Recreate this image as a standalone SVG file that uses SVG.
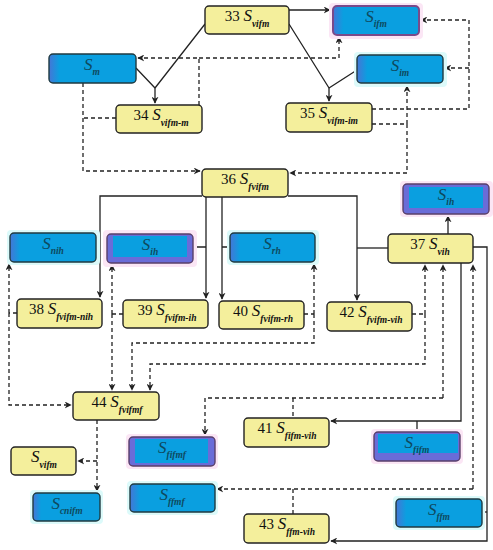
<svg xmlns="http://www.w3.org/2000/svg" width="493" height="550" viewBox="0 0 493 550">
<defs>
<marker id="ah" viewBox="0 0 10 10" refX="9" refY="5" markerWidth="7" markerHeight="7" orient="auto" markerUnits="userSpaceOnUse">
<path d="M0,0 L10,5 L0,10 L3,5 z" fill="#222"/>
</marker>
<linearGradient id="bg" x1="0" y1="0" x2="1" y2="0">
<stop offset="0" stop-color="#4576d6"/><stop offset="0.12" stop-color="#0a9fe0"/><stop offset="1" stop-color="#0a9fe0"/>
</linearGradient>
<style>
.y{fill:#f4ef9c;stroke:#222;stroke-width:1.4}
.b{fill:url(#bg);stroke:#1f3a40;stroke-width:1.4}
.p{fill:#6a6cd8;stroke:#5a3f6a;stroke-width:1.4}
.pi{fill:#0a9fe0}
.gp{fill:#fbe6f5}
.gc{fill:#dcfafa}
text{font-family:"Liberation Serif","Times New Roman",serif;font-size:15px;text-anchor:middle;fill:#111}
.bt{fill:#0e4a5e}
.S{font-style:italic;font-size:17px}
.sub{font-style:italic;font-size:9.5px;font-weight:bold}
.c{fill:none;stroke:#222;stroke-width:1.3}
.d{fill:none;stroke:#222;stroke-width:1.3;stroke-dasharray:4,3}
</style>
</defs>

<g id="connectors">
<!-- solid -->
<path class="c" d="M289,10 H330" marker-end="url(#ah)"/>
<path class="c" d="M205,24 L155,88 M136,68 L155,88"/>
<path class="c" d="M155,88 V103" marker-end="url(#ah)"/>
<path class="c" d="M289,24 L329,88 M357,70 L329,88"/>
<path class="c" d="M329,88 V101" marker-end="url(#ah)"/>
<path class="c" d="M202,196 H100 V297" marker-end="url(#ah)"/>
<path class="c" d="M206,197 V298" marker-end="url(#ah)"/>
<path class="c" d="M222,197 V299" marker-end="url(#ah)"/>
<path class="c" d="M96,248 H100 M193,247 H206 M230,247 H222"/>
<path class="c" d="M288,196 H357 V300" marker-end="url(#ah)"/>
<path class="c" d="M388,248 H357"/>
<path class="c" d="M448,234 V216" marker-end="url(#ah)"/>
<path class="c" d="M473,247 H487 V541 H331" marker-end="url(#ah)"/>
<path class="c" d="M482,512 H487"/>
<path class="c" d="M461,263 V421 H331" marker-end="url(#ah)"/>
<path class="c" d="M417,432 V421"/>
<!-- dashed -->
<path class="d" d="M372,109 H469 V20 H421" marker-end="url(#ah)"/>
<path class="d" d="M469,68 H445" marker-end="url(#ah)"/>
<path class="d" d="M372,124 H407 V173 H290" marker-end="url(#ah)"/>
<path class="d" d="M407,124 V86" marker-end="url(#ah)"/>
<path class="d" d="M199,105 V58 H138" marker-end="url(#ah)"/>
<path class="d" d="M199,58 H339 V37" marker-end="url(#ah)"/>
<path class="d" d="M83,83 V171 H200" marker-end="url(#ah)"/>
<path class="d" d="M116,118 H83"/>
<path class="d" d="M17,313 H9"/>
<path class="d" d="M9,313 V264" marker-end="url(#ah)"/>
<path class="d" d="M9,313 V405 H71" marker-end="url(#ah)"/>
<path class="d" d="M123,314 H112"/>
<path class="d" d="M112,314 V265" marker-end="url(#ah)"/>
<path class="d" d="M112,314 V390" marker-end="url(#ah)"/>
<path class="d" d="M304,314 H314"/>
<path class="d" d="M314,314 V264" marker-end="url(#ah)"/>
<path class="d" d="M314,314 V343 H132 V390" marker-end="url(#ah)"/>
<path class="d" d="M412,314 H425"/>
<path class="d" d="M425,314 V265" marker-end="url(#ah)"/>
<path class="d" d="M425,314 V364 H150 V390" marker-end="url(#ah)"/>
<path class="d" d="M443,398 V265" marker-end="url(#ah)"/>
<path class="d" d="M443,398 H205 V435" marker-end="url(#ah)"/>
<path class="d" d="M293,398 V418"/>
<path class="d" d="M473,489 V265" marker-end="url(#ah)"/>
<path class="d" d="M473,489 H217" marker-end="url(#ah)"/>
<path class="d" d="M293,489 V514"/>
<path class="d" d="M97,420 V491" marker-end="url(#ah)"/>
<path class="d" d="M97,461 H78" marker-end="url(#ah)"/>
</g>

<g id="n33"><rect class="y" x="205" y="6" width="84" height="28" rx="4"/><text x="247" y="21">33 <tspan class="S">S</tspan><tspan class="sub" dy="6">vifm</tspan></text></g>
<g id="s_ifm"><rect class="gp" x="329" y="3" width="94" height="36" rx="4"/><rect class="b" x="333" y="6" width="86" height="29" rx="4" style="stroke:#7a4a8a;stroke-width:2"/><text class="bt" x="376" y="22"><tspan class="S">S</tspan><tspan class="sub" dy="5">ifm</tspan></text></g>
<g id="s_im"><rect class="gc" x="354" y="52" width="93" height="35" rx="4"/><rect class="b" x="357" y="55" width="86" height="28" rx="4"/><text class="bt" x="400" y="71"><tspan class="S">S</tspan><tspan class="sub" dy="5">im</tspan></text></g>
<g id="s_m"><rect class="b" x="49" y="54" width="87" height="29" rx="4"/><text class="bt" x="92" y="70"><tspan class="S">S</tspan><tspan class="sub" dy="5">m</tspan></text></g>
<g id="n34"><rect class="y" x="116" y="105" width="86" height="28" rx="4"/><text x="161" y="120">34 <tspan class="S">S</tspan><tspan class="sub" dy="6">vifm-m</tspan></text></g>
<g id="n35"><rect class="y" x="286" y="103" width="86" height="29" rx="4"/><text x="329" y="118">35 <tspan class="S">S</tspan><tspan class="sub" dy="6">vifm-im</tspan></text></g>
<g id="n36"><rect class="y" x="202" y="169" width="86" height="28" rx="4"/><text x="245" y="184">36 <tspan class="S">S</tspan><tspan class="sub" dy="6">fvifm</tspan></text></g>
<g id="s_nih"><rect class="gc" x="7" y="230" width="93" height="35" rx="4"/><rect class="b" x="10" y="233" width="86" height="29" rx="4"/><text class="bt" x="53" y="249"><tspan class="S">S</tspan><tspan class="sub" dy="5">nih</tspan></text></g>
<g id="s_ih1"><rect class="gp" x="103" y="230" width="94" height="37" rx="4"/><rect class="p" x="107" y="234" width="86" height="29" rx="4"/><rect class="pi" x="113" y="236" width="74" height="21"/><text class="bt" x="150" y="250"><tspan class="S">S</tspan><tspan class="sub" dy="5">ih</tspan></text></g>
<g id="s_rh"><rect class="gc" x="227" y="230" width="92" height="35" rx="4"/><rect class="b" x="230" y="233" width="85" height="29" rx="4"/><text class="bt" x="272" y="249"><tspan class="S">S</tspan><tspan class="sub" dy="5">rh</tspan></text></g>
<g id="s_ih2"><rect class="gp" x="400" y="181" width="93" height="36" rx="4"/><rect class="p" x="403" y="184" width="86" height="30" rx="4"/><rect class="pi" x="409" y="187" width="74" height="21"/><text class="bt" x="446" y="200"><tspan class="S">S</tspan><tspan class="sub" dy="5">ih</tspan></text></g>
<g id="n37"><rect class="y" x="388" y="234" width="85" height="29" rx="4"/><text x="430" y="249">37 <tspan class="S">S</tspan><tspan class="sub" dy="6">vih</tspan></text></g>
<g id="n38"><rect class="y" x="17" y="299" width="85" height="29" rx="4"/><text x="61" y="314">38 <tspan class="S">S</tspan><tspan class="sub" dy="6">fvifm-nih</tspan></text></g>
<g id="n39"><rect class="y" x="123" y="300" width="85" height="28" rx="4"/><text x="167" y="315">39 <tspan class="S">S</tspan><tspan class="sub" dy="6">fvifm-ih</tspan></text></g>
<g id="n40"><rect class="y" x="219" y="301" width="85" height="28" rx="4"/><text x="263" y="316">40 <tspan class="S">S</tspan><tspan class="sub" dy="6">fvifm-rh</tspan></text></g>
<g id="n42"><rect class="y" x="327" y="302" width="85" height="29" rx="4"/><text x="371" y="317">42 <tspan class="S">S</tspan><tspan class="sub" dy="6">fvifm-vih</tspan></text></g>
<g id="n44"><rect class="y" x="73" y="392" width="86" height="28" rx="4"/><text x="117" y="407">44 <tspan class="S">S</tspan><tspan class="sub" dy="6">fvifmf</tspan></text></g>
<g id="s_vifm"><rect class="y" x="11" y="447" width="65" height="28" rx="4"/><text x="44" y="462"><tspan class="S">S</tspan><tspan class="sub" dy="6">vifm</tspan></text></g>
<g id="s_cnifm"><rect class="gc" x="30" y="490" width="73" height="34" rx="4"/><rect class="b" x="33" y="493" width="67" height="28" rx="4"/><text class="bt" x="67" y="509"><tspan class="S">S</tspan><tspan class="sub" dy="5">cnifm</tspan></text></g>
<g id="s_fifmf"><rect class="gp" x="126" y="434" width="92" height="35" rx="4"/><rect class="p" x="129" y="437" width="86" height="29" rx="4"/><rect class="pi" x="135" y="439" width="73" height="24"/><text class="bt" x="172" y="453"><tspan class="S">S</tspan><tspan class="sub" dy="5">fifmf</tspan></text></g>
<g id="s_ffmf"><rect class="gc" x="127" y="481" width="91" height="34" rx="4"/><rect class="b" x="130" y="484" width="85" height="28" rx="4"/><text class="bt" x="172" y="500"><tspan class="S">S</tspan><tspan class="sub" dy="5">ffmf</tspan></text></g>
<g id="n41"><rect class="y" x="244" y="418" width="85" height="29" rx="4"/><text x="287" y="433">41 <tspan class="S">S</tspan><tspan class="sub" dy="6">fifm-vih</tspan></text></g>
<g id="s_fifm"><rect class="gp" x="371" y="429" width="92" height="35" rx="4"/><rect class="p" x="374" y="432" width="86" height="29" rx="4"/><rect class="pi" x="378" y="434" width="80" height="19"/><text class="bt" x="417" y="448"><tspan class="S">S</tspan><tspan class="sub" dy="5">fifm</tspan></text></g>
<g id="n43"><rect class="y" x="244" y="514" width="85" height="29" rx="4"/><text x="287" y="529">43 <tspan class="S">S</tspan><tspan class="sub" dy="6">ffm-vih</tspan></text></g>
<g id="s_ffm"><rect class="gc" x="393" y="496" width="92" height="34" rx="4"/><rect class="b" x="396" y="499" width="86" height="28" rx="4"/><text class="bt" x="439" y="515"><tspan class="S">S</tspan><tspan class="sub" dy="5">ffm</tspan></text></g>
</svg>
